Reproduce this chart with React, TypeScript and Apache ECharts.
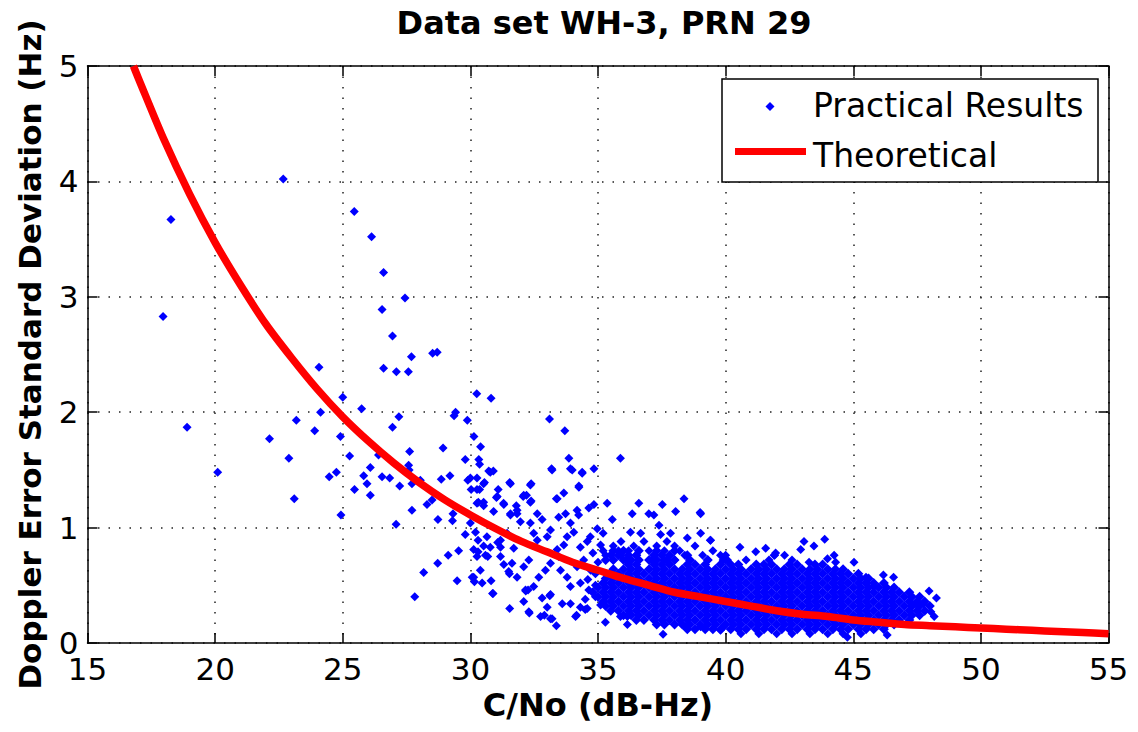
import React, { useEffect, useRef } from "react";
import * as echarts from "echarts";

const titleText = "Data set WH-3, PRN 29";
const xAxisName = "C/No (dB-Hz)";
const yAxisName = "Doppler Error Standard Deviation (Hz)";
const legendPractical = "Practical Results";
const legendTheory = "Theoretical";

const xMin = 15;
const xMax = 55;
const xStep = 5;
const yMin = 0;
const yMax = 5;
const yStep = 1;

// Theoretical curve
const theoryX = [16.8, 17, 18, 19, 20, 21, 22, 23, 24, 25, 26, 27, 28, 29, 30, 31, 32, 33, 34, 35, 36, 37, 38, 39, 40, 41, 42, 43, 44, 45, 46, 47, 48, 49, 50, 51, 52, 53, 54, 55];
const theoryY = [5.0, 4.89, 4.36, 3.89, 3.47, 3.1, 2.76, 2.47, 2.2, 1.96, 1.75, 1.56, 1.39, 1.24, 1.11, 0.99, 0.88, 0.79, 0.7, 0.63, 0.56, 0.5, 0.44, 0.4, 0.36, 0.32, 0.28, 0.25, 0.23, 0.2, 0.18, 0.16, 0.15, 0.14, 0.13, 0.12, 0.11, 0.1, 0.09, 0.08];

// Individually read practical points (x = C/No, y = std dev)
const practicalSparse: [number, number][] = [
  [17.96, 2.83], [18.27, 3.67], [18.9, 1.87], [20.1, 1.48], [22.67, 4.02], [25.45, 3.74], [26.13, 3.52], [26.6, 3.21],
  [27.44, 2.99], [26.54, 2.89], [26.95, 2.66], [27.69, 2.48], [28.52, 2.51], [28.7, 2.52], [26.6, 2.38], [27.1, 2.35],
  [27.57, 2.35], [24.07, 2.39], [30.25, 2.16], [30.81, 2.12], [25.0, 2.13], [25.74, 2.03], [24.13, 2.0], [29.42, 2.0],
  [29.36, 1.97], [29.88, 1.93], [23.18, 1.93], [27.2, 1.96], [26.95, 1.87], [23.9, 1.84], [24.91, 1.79], [22.13, 1.77],
  [30.14, 1.79], [28.93, 1.69], [27.62, 1.66], [30.4, 1.7], [25.27, 1.62], [22.89, 1.6], [29.8, 1.59], [26.4, 1.63],
  [26.08, 1.52], [25.82, 1.45], [24.75, 1.48], [24.47, 1.44], [26.54, 1.44], [26.84, 1.43], [25.95, 1.38], [25.46, 1.33],
  [26.08, 1.28], [27.23, 1.36], [23.1, 1.25], [24.93, 1.11], [27.71, 1.15], [27.09, 1.03], [27.6, 1.5], [27.58, 1.54],
  [28.04, 1.41], [27.71, 1.38], [28.86, 1.42], [29.2, 1.45], [29.9, 1.41], [33.1, 1.94], [33.7, 1.84], [33.86, 1.6],
  [35.88, 1.6], [33.18, 1.51], [33.92, 1.51], [34.38, 1.48], [34.84, 1.51], [34.25, 1.35], [33.37, 1.25], [33.66, 1.3],
  [30.33, 1.59], [30.36, 1.55], [30.72, 1.49], [30.9, 1.49], [30.0, 1.43], [30.26, 1.43], [30.55, 1.39], [30.03, 1.33],
  [30.36, 1.33], [31.09, 1.33], [31.54, 1.39], [32.38, 1.38], [32.07, 1.27], [32.2, 1.28], [31.02, 1.26], [30.31, 1.22],
  [30.52, 1.19], [31.31, 1.2], [31.8, 1.19], [31.83, 1.12], [31.57, 1.11], [32.38, 1.23], [28.5, 1.24], [28.3, 1.2],
  [28.73, 1.07], [29.32, 1.12], [29.3, 1.06], [30.0, 1.04], [29.8, 0.94], [30.2, 0.96], [29.54, 0.8], [29.13, 0.76],
  [28.72, 0.69], [28.17, 0.61], [27.82, 0.4], [29.48, 0.54], [30.07, 0.57], [30.16, 0.53], [30.68, 0.75], [30.3, 0.79],
  [30.52, 0.84], [30.3, 0.89], [30.81, 0.54], [30.89, 0.43], [31.07, 0.87], [31.18, 0.83], [31.54, 0.3], [32.29, 0.27],
  [32.75, 0.23], [32.9, 0.24], [33.2, 0.21], [33.37, 0.15], [34.12, 0.23], [32.17, 0.45], [32.26, 0.46], [33.11, 0.41],
  [33.6, 0.34], [34.58, 0.3], [31.53, 0.6], [31.63, 0.69],
  [30.78, 1.48], [30.52, 1.38], [31.57, 1.38], [32.35, 1.37], [32.09, 1.28], [32.35, 1.22], [31.3, 1.21], [31.05, 1.27],
  [33.4, 1.25], [34.25, 1.36], [33.99, 1.5], [34.38, 1.47], [33.2, 1.5], [30.26, 1.33], [30.26, 1.21], [30.52, 1.22],
  [30.91, 1.14], [31.57, 1.12], [31.83, 1.15], [31.96, 1.05], [32.62, 1.12], [32.81, 1.07], [32.35, 1.04], [33.46, 1.09],
  [33.73, 1.12], [33.92, 1.04], [34.18, 1.15], [34.24, 1.11], [34.64, 1.17], [34.84, 1.2], [35.36, 1.21], [35.56, 1.07],
  [34.97, 0.99], [34.05, 0.96], [33.79, 0.92], [33.14, 0.98], [33.01, 0.92], [32.48, 0.95], [32.62, 0.89], [31.44, 0.95],
  [31.18, 0.89], [30.78, 0.83], [30.65, 0.92], [31.7, 0.82], [33.4, 0.81], [33.66, 0.85], [34.31, 0.83], [34.58, 0.88],
  [36.6, 1.21], [36.99, 1.12], [37.52, 1.2], [38.04, 1.14], [38.37, 1.25], [39.02, 1.12], [36.34, 1.12], [37.19, 1.11],
  [37.39, 1.02], [37.84, 0.95], [38.5, 0.91], [39.02, 0.95], [39.41, 0.89], [37.45, 0.94], [36.67, 0.95], [36.27, 0.96],
  [30.13, 0.81], [30.26, 0.75], [30.59, 0.76], [31.18, 0.75], [31.31, 0.68], [31.5, 0.62], [31.83, 0.57], [32.09, 0.66],
  [32.29, 0.72], [32.16, 0.46], [32.48, 0.49], [32.68, 0.57], [32.94, 0.63], [33.14, 0.69], [33.46, 0.75], [33.53, 0.63],
  [33.79, 0.57], [33.92, 0.49], [33.14, 0.42], [32.81, 0.39], [34.18, 0.66], [34.44, 0.72], [34.71, 0.63], [34.31, 0.52],
  [34.64, 0.46], [34.9, 0.4], [30.39, 0.63], [30.13, 0.57], [30.46, 0.52], [32.09, 0.36], [33.01, 0.31], [33.92, 0.34],
  [34.31, 0.31], [37.55, 0.075], [36.15, 0.23], [35.29, 0.18], [34.5, 0.29], [34.16, 0.24], [33.14, 0.21], [32.31, 0.26],
  [30.87, 0.43], [36.15, 0.16], [35.88, 0.23], [35.1, 0.33], [38.43, 0.14], [39.02, 0.14], [39.93, 0.14],
  [39.0, 1.13], [39.4, 0.89], [40.56, 0.83], [41.18, 0.79], [41.57, 0.82], [41.92, 0.76], [42.31, 0.76], [43.07, 0.88],
  [43.46, 0.84], [43.88, 0.9], [44.25, 0.76], [45.03, 0.7], [45.5, 0.57], [46.18, 0.59], [46.58, 0.57], [45.82, 0.49],
  [47.97, 0.45], [48.26, 0.39], [47.45, 0.34], [47.75, 0.34], [48.04, 0.27], [48.17, 0.23], [39.8, 0.11], [46.33, 0.07],
  [44.77, 0.05], [41.96, 0.78], [42.94, 0.81], [43.27, 0.7], [43.99, 0.73], [44.31, 0.7], [39.8, 0.76], [40.07, 0.72],
  [35.6, 0.72], [36.1, 0.72], [36.6, 0.72], [37.1, 0.72], [37.7, 0.72], [38.0, 0.72], [38.6, 0.72], [39.3, 0.72],
  [39.9, 0.72], [40.8, 0.72], [41.7, 0.72], [42.6, 0.72], [35.3, 0.76], [35.9, 0.76], [36.5, 0.76], [37.2, 0.76],
  [37.8, 0.76], [38.4, 0.76], [39.1, 0.76], [40.0, 0.76], [41.9, 0.76], [35.2, 0.8], [35.8, 0.8], [36.2, 0.8],
  [37.0, 0.8], [37.6, 0.8], [38.2, 0.8], [39.5, 0.8], [35.6, 0.84], [36.4, 0.84], [37.3, 0.84], [38.0, 0.84],
  [38.8, 0.84], [35.9, 0.88], [36.8, 0.88], [37.7, 0.88],
  [40.6, 0.08], [41.3, 0.08], [42.0, 0.08], [42.6, 0.08], [43.3, 0.08], [44.0, 0.08], [44.6, 0.08], [45.3, 0.08],
  [34.6, 0.55], [34.9, 0.6], [35.0, 0.7], [34.8, 0.78], [35.1, 0.85], [34.5, 0.38], [34.9, 0.5], [35.2, 0.95],
  [34.7, 0.92],
];

// Solid core of the practical results, read row by row: [y, x values]
const practicalDenseRows: [number, number[]][] = [
  [0.12, [38.5, 38.8, 39.2, 39.5, 39.8, 40.2, 40.5, 40.8, 41.2, 41.5, 41.8, 42.2, 42.5, 42.8, 43.2, 43.5, 43.8, 44.2, 44.5, 44.8, 45.2, 45.5, 45.8, 46.2]],
  [0.16, [37.3, 37.6, 38.0, 38.3, 38.6, 39.0, 39.3, 39.6, 40.0, 40.3, 40.6, 41.0, 41.3, 41.6, 42.0, 42.3, 42.6, 43.0, 43.3, 43.6, 44.0, 44.3, 44.6, 45.0, 45.3, 45.6, 46.0, 46.3, 46.6]],
  [0.2, [36.5, 36.8, 37.2, 37.5, 37.8, 38.2, 38.5, 38.8, 39.2, 39.5, 39.8, 40.2, 40.5, 40.8, 41.2, 41.5, 41.8, 42.2, 42.5, 42.8, 43.2, 43.5, 43.8, 44.2, 44.5, 44.8, 45.2, 45.5, 45.8, 46.2, 46.5, 46.8, 47.2]],
  [0.24, [36.0, 36.3, 36.6, 37.0, 37.3, 37.6, 38.0, 38.3, 38.6, 39.0, 39.3, 39.6, 40.0, 40.3, 40.6, 41.0, 41.3, 41.6, 42.0, 42.3, 42.6, 43.0, 43.3, 43.6, 44.0, 44.3, 44.6, 45.0, 45.3, 45.6, 46.0, 46.3, 46.6, 47.0, 47.3, 47.6]],
  [0.28, [35.5, 35.8, 36.2, 36.5, 36.8, 37.2, 37.5, 37.8, 38.2, 38.5, 38.8, 39.2, 39.5, 39.8, 40.2, 40.5, 40.8, 41.2, 41.5, 41.8, 42.2, 42.5, 42.8, 43.2, 43.5, 43.8, 44.2, 44.5, 44.8, 45.2, 45.5, 45.8, 46.2, 46.5, 46.8, 47.2, 47.5, 47.8]],
  [0.32, [35.3, 35.6, 36.0, 36.3, 36.6, 37.0, 37.3, 37.6, 38.0, 38.3, 38.6, 39.0, 39.3, 39.6, 40.0, 40.3, 40.6, 41.0, 41.3, 41.6, 42.0, 42.3, 42.6, 43.0, 43.3, 43.6, 44.0, 44.3, 44.6, 45.0, 45.3, 45.6, 46.0, 46.3, 46.6, 47.0, 47.3, 47.6, 48.0]],
  [0.36, [35.2, 35.5, 35.8, 36.2, 36.5, 36.8, 37.2, 37.5, 37.8, 38.2, 38.5, 38.8, 39.2, 39.5, 39.8, 40.2, 40.5, 40.8, 41.2, 41.5, 41.8, 42.2, 42.5, 42.8, 43.2, 43.5, 43.8, 44.2, 44.5, 44.8, 45.2, 45.5, 45.8, 46.2, 46.5, 46.8, 47.2, 47.5, 47.8]],
  [0.4, [35.0, 35.3, 35.6, 36.0, 36.3, 36.6, 37.0, 37.3, 37.6, 38.0, 38.3, 38.6, 39.0, 39.3, 39.6, 40.0, 40.3, 40.6, 41.0, 41.3, 41.6, 42.0, 42.3, 42.6, 43.0, 43.3, 43.6, 44.0, 44.3, 44.6, 45.0, 45.3, 45.6, 46.0, 46.3, 46.6, 47.0, 47.3, 47.6]],
  [0.44, [34.8, 35.2, 35.5, 35.8, 36.2, 36.5, 36.8, 37.2, 37.5, 37.8, 38.2, 38.5, 38.8, 39.2, 39.5, 39.8, 40.2, 40.5, 40.8, 41.2, 41.5, 41.8, 42.2, 42.5, 42.8, 43.2, 43.5, 43.8, 44.2, 44.5, 44.8, 45.2, 45.5, 45.8, 46.2, 46.5, 46.8, 47.2]],
  [0.48, [35.0, 35.3, 35.6, 36.0, 36.3, 36.6, 37.0, 37.3, 37.6, 38.0, 38.3, 38.6, 39.0, 39.3, 39.6, 40.0, 40.3, 40.6, 41.0, 41.3, 41.6, 42.0, 42.3, 42.6, 43.0, 43.3, 43.6, 44.0, 44.3, 44.6, 45.0, 45.3, 45.6, 46.0, 46.3, 46.6]],
  [0.52, [35.2, 35.5, 35.8, 36.2, 36.5, 36.8, 37.2, 37.5, 37.8, 38.2, 38.5, 38.8, 39.2, 39.5, 39.8, 40.2, 40.5, 40.8, 41.2, 41.5, 41.8, 42.2, 42.5, 42.8, 43.2, 43.5, 43.8, 44.2, 44.5, 44.8, 45.2, 45.5, 45.8, 46.2]],
  [0.56, [35.3, 35.6, 36.0, 36.3, 36.6, 37.0, 37.3, 37.6, 38.0, 38.3, 38.6, 39.0, 39.3, 39.6, 40.0, 40.3, 40.6, 41.0, 41.3, 41.6, 42.0, 42.3, 42.6, 43.0, 43.3, 43.6, 44.0, 44.3, 44.6, 45.0, 45.3, 45.6]],
  [0.6, [35.5, 35.8, 36.2, 36.5, 36.8, 37.2, 37.5, 37.8, 38.2, 38.5, 38.8, 39.2, 39.5, 39.8, 40.2, 40.5, 40.8, 41.2, 41.5, 41.8, 42.2, 42.5, 42.8, 43.2, 43.5, 43.8, 44.2, 44.5, 44.8, 45.2]],
  [0.64, [35.6, 36.0, 36.3, 36.6, 37.0, 37.3, 37.6, 38.0, 38.3, 38.6, 39.0, 39.3, 39.6, 40.0, 40.3, 40.6, 41.0, 41.3, 41.6, 42.0, 42.3, 42.6, 43.0, 43.3, 43.6, 44.0, 44.3, 44.6]],
  [0.68, [36.2, 36.5, 37.2, 37.5, 37.8, 38.5, 38.8, 39.2, 39.8, 40.2, 40.5, 41.2, 41.5, 41.8, 42.5, 42.8, 43.5, 43.8]],
  [0.72, [35.3, 35.6, 36.0, 36.3, 36.6, 37.0, 37.3, 37.6, 38.0, 38.6, 39.3, 40.0]],
  [0.76, [35.5, 35.8, 36.2, 36.5, 37.2, 37.5, 37.8, 38.5]],
  [0.8, [35.6, 36.0, 36.6, 37.3, 38.0]],
];

const FONT = "DejaVu Sans";

export default function App() {
  const ref = useRef<HTMLDivElement>(null);

  useEffect(() => {
    if (!ref.current) return;
    const chart = echarts.init(ref.current, undefined, { renderer: "svg" });

    const dense: [number, number][] = [];
    practicalDenseRows.forEach(([y, xs]) => xs.forEach((x) => dense.push([x, y])));
    const theory = theoryX.map((x, i) => [x, theoryY[i]]);

    const gridLine = { show: true, lineStyle: { color: "#222", width: 1.5, type: [1.5, 9] as any } };
    const axisLineStyle = { show: true, onZero: false, lineStyle: { color: "#000", width: 1.5 } };
    const tickStyle = { show: true, inside: true, length: 10, lineStyle: { color: "#000", width: 1.5 } };

    chart.setOption({
      animation: false,
      backgroundColor: "#fff",
      grid: { left: 87.5, right: 29.5, top: 66, bottom: 89, containLabel: false },
      xAxis: [
        {
          type: "value", min: xMin, max: xMax, interval: xStep, position: "bottom",
          name: xAxisName, nameLocation: "middle", nameGap: 45,
          nameTextStyle: { fontFamily: FONT, fontSize: 32, fontWeight: "bold", color: "#000" },
          axisLine: axisLineStyle,
          axisTick: tickStyle,
          axisLabel: { fontFamily: FONT, fontSize: 31, color: "#000", margin: 10 },
          splitLine: gridLine,
        },
        {
          type: "value", min: xMin, max: xMax, interval: xStep, position: "top",
          axisLine: axisLineStyle,
          axisTick: tickStyle,
          axisLabel: { show: false },
          splitLine: { show: false },
        },
      ],
      yAxis: [
        {
          type: "value", min: yMin, max: yMax, interval: yStep, position: "left",
          name: yAxisName, nameLocation: "middle", nameGap: 42,
          nameTextStyle: { fontFamily: FONT, fontSize: 31, fontWeight: "bold", color: "#000" },
          axisLine: axisLineStyle,
          axisTick: tickStyle,
          axisLabel: { fontFamily: FONT, fontSize: 31, color: "#000", margin: 9 },
          splitLine: gridLine,
        },
        {
          type: "value", min: yMin, max: yMax, interval: yStep, position: "right",
          axisLine: axisLineStyle,
          axisTick: tickStyle,
          axisLabel: { show: false },
          splitLine: { show: false },
        },
      ],
      series: [
        {
          name: legendPractical,
          type: "scatter",
          data: dense,
          symbol: "diamond",
          symbolSize: 10,
          itemStyle: { color: "#0000ff", opacity: 1 },
          z: 2,
          silent: true,
        },
        {
          name: legendPractical,
          type: "scatter",
          data: practicalSparse,
          symbol: "diamond",
          symbolSize: 9,
          itemStyle: { color: "#0000ff", opacity: 1 },
          z: 2,
          silent: true,
        },
        {
          name: legendTheory,
          type: "line",
          data: theory,
          smooth: 0.3,
          showSymbol: false,
          symbol: "none",
          lineStyle: { color: "#ff0000", width: 7.5 },
          z: 3,
          clip: true,
          silent: true,
        },
      ],
      graphic: [
        {
          type: "text",
          x: 604,
          y: 22.5,
          z: 100,
          style: {
            text: titleText, fontFamily: FONT, fontSize: 32, fontWeight: "bold", fill: "#000",
            textAlign: "center", textVerticalAlign: "middle",
          },
        },
        {
          type: "group",
          z: 100,
          children: [
            {
              type: "rect",
              shape: { x: 722, y: 79, width: 376, height: 103 },
              style: { fill: "#fff", stroke: "#000", lineWidth: 1.5 },
              z: 100,
            },
            {
              type: "polygon",
              shape: { points: [[770, 102], [774.5, 106.5], [770, 111], [765.5, 106.5]] },
              style: { fill: "#0000ff" },
              z: 101,
            },
            {
              type: "line",
              shape: { x1: 735, y1: 151.5, x2: 806, y2: 151.5 },
              style: { stroke: "#ff0000", lineWidth: 7 },
              z: 101,
            },
            {
              type: "text",
              x: 813,
              y: 105.5,
              z: 101,
              style: { text: legendPractical, fontFamily: FONT, fontSize: 33, fill: "#000", textVerticalAlign: "middle" },
            },
            {
              type: "text",
              x: 813,
              y: 155,
              z: 101,
              style: { text: legendTheory, fontFamily: FONT, fontSize: 33, fill: "#000", textVerticalAlign: "middle" },
            },
          ],
        },
      ],
    });

    return () => chart.dispose();
  }, []);

  return (
    <div
      ref={ref}
      style={{ position: "absolute", left: 0, top: 0, width: 1138, height: 732, background: "#fff" }}
    />
  );
}
